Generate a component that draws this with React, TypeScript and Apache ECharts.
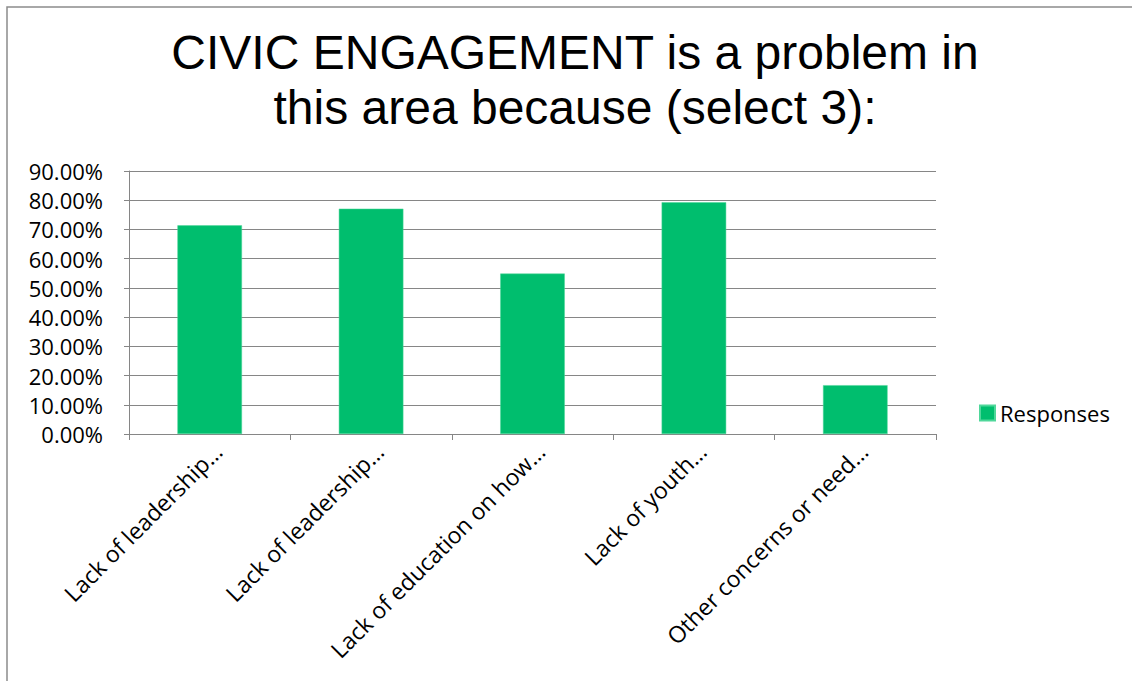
import React, { useEffect, useRef } from "react";
import * as echarts from "echarts";

const titleLines = ["CIVIC ENGAGEMENT is a problem in", "this area because (select 3):"];
const categories = [
  "Lack of leadership…",
  "Lack of leadership…",
  "Lack of education on how…",
  "Lack of youth…",
  "Other concerns or need…",
];
const seriesName = "Responses";
const responses = [71.4, 77.1, 54.9, 79.3, 16.7];
const yTicks = { min: 0, max: 90, interval: 10 };

export default function App() {
  const ref = useRef<HTMLDivElement>(null);
  useEffect(() => {
    if (!ref.current) return;
    const chart = echarts.init(ref.current, undefined, { renderer: "svg" });
    const labelFont = "'Open Sans', 'Noto Sans', sans-serif";
    chart.setOption({
      animation: false,
      backgroundColor: "#ffffff",
      title: {
        text: titleLines.join("\n"),
        left: 570,
        top: 20,
        textAlign: "center",
        textStyle: {
          fontFamily: "'Liberation Sans', Arial, sans-serif",
          fontSize: 48,
          fontWeight: "normal",
          color: "#000000",
          lineHeight: 55,
        },
      },
      graphic: [
        {
          type: "rect",
          shape: { x: 7, y: 7, width: 1300, height: 900 },
          style: { fill: "none", stroke: "#8c8c8c", lineWidth: 1.5 },
          silent: true,
        },
      ],
      legend: {
        data: [seriesName],
        orient: "vertical",
        left: 974,
        top: 397,
        itemWidth: 15,
        itemHeight: 15,
        itemGap: 10,
        icon: "rect",
        textStyle: { fontFamily: labelFont, fontSize: 22, color: "#000000" },
      },
      grid: { left: 129, right: 196, top: 171, bottom: 247, containLabel: false },
      xAxis: {
        type: "category",
        data: categories,
        boundaryGap: true,
        axisLine: { show: true, lineStyle: { color: "#868686", width: 1 } },
        axisTick: { show: true, length: 6, alignWithLabel: false, lineStyle: { color: "#868686" } },
        axisLabel: {
          interval: 0,
          rotate: 45,
          margin: 5,
          verticalAlign: "top",
          fontFamily: labelFont,
          fontSize: 23,
          color: "#000000",
        },
      },
      yAxis: {
        type: "value",
        min: yTicks.min,
        max: yTicks.max,
        interval: yTicks.interval,
        axisLine: { show: true, lineStyle: { color: "#868686", width: 1 } },
        axisTick: { show: true, inside: false, length: 5, lineStyle: { color: "#868686" } },
        splitLine: { show: true, lineStyle: { color: "#868686", width: 1 } },
        axisLabel: {
          margin: 26,
          fontFamily: labelFont,
          fontSize: 22,
          color: "#000000",
          formatter: (v: number) => v.toFixed(2) + "%",
        },
      },
      series: [
        {
          name: seriesName,
          type: "bar",
          data: responses,
          barWidth: "40%",
          itemStyle: { color: "#00BE6E", borderColor: "#4fd79a", borderWidth: 0.5 },
        },
      ],
    });
    return () => chart.dispose();
  }, []);
  return (
    <div
      ref={ref}
      style={{ position: "absolute", left: 0, top: 0, width: 1132, height: 681 }}
    />
  );
}
